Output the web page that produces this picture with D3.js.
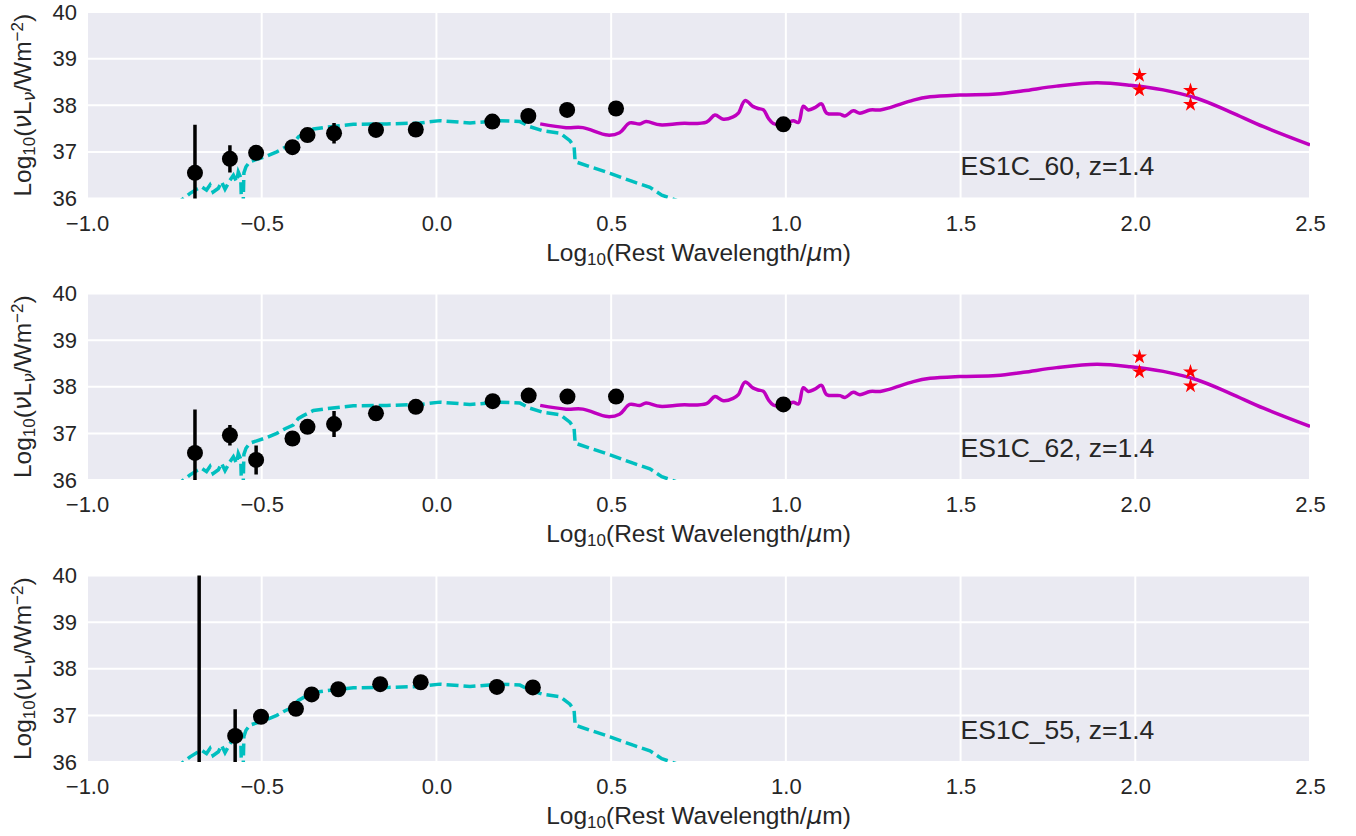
<!DOCTYPE html>
<html>
<head>
<meta charset="utf-8">
<script src="https://cdn.jsdelivr.net/npm/d3@7"></script>
<style>
  html, body { margin: 0; padding: 0; background: #ffffff; }
  svg { display: block; }
  text { font-family: "Liberation Sans", Arial, sans-serif; fill: #262626; }
</style>
</head>
<body>
<svg id="chart" width="1356" height="836"></svg>
<script>
// ---------------- data ----------------
const xTicks = [-1.0, -0.5, 0.0, 0.5, 1.0, 1.5, 2.0, 2.5];
const yTicks = [36, 37, 38, 39, 40];
const panelNames = ["ES1C_60, z=1.4", "ES1C_62, z=1.4", "ES1C_55, z=1.4"];

// photometry, panel 1 (ES1C_60)
const p1X   = [-0.691, -0.591, -0.516, -0.412, -0.369, -0.293, -0.173, -0.059, 0.160, 0.263, 0.374, 0.514, 0.993];
const p1Y   = [36.55, 36.85, 36.98, 37.10, 37.36, 37.40, 37.47, 37.48, 37.65, 37.77, 37.90, 37.93, 37.59];
const p1Err = [1.03, 0.29, 0.05, 0.05, 0.05, 0.22, 0.04, 0.04, 0.03, 0.03, 0.03, 0.03, 0.03];

// photometry, panel 2 (ES1C_62)
const p2X   = [-0.691, -0.591, -0.516, -0.412, -0.369, -0.293, -0.173, -0.059, 0.161, 0.264, 0.375, 0.514, 0.993];
const p2Y   = [36.58, 36.96, 36.43, 36.89, 37.14, 37.20, 37.43, 37.57, 37.69, 37.81, 37.79, 37.79, 37.62];
const p2Err = [0.93, 0.22, 0.31, 0.05, 0.05, 0.28, 0.04, 0.04, 0.03, 0.03, 0.03, 0.03, 0.03];

// photometry, panel 3 (ES1C_55)
const p3X   = [-0.679, -0.576, -0.502, -0.402, -0.357, -0.281, -0.161, -0.045, 0.173, 0.276];
const p3Y   = [35.3, 36.56, 36.97, 37.14, 37.45, 37.56, 37.67, 37.71, 37.61, 37.60];
const p3Err = [5.0, 0.57, 0.05, 0.05, 0.05, 0.05, 0.04, 0.04, 0.03, 0.03];

// far-IR (Herschel) points, red stars
const firX = [2.012, 2.012, 2.158, 2.158];
const fir1Y = [38.64, 38.33, 38.32, 38.02];
const fir2Y = [38.64, 38.32, 38.32, 38.02];

// stellar template (cyan dashed)
const tplX = [-0.75, -0.729, -0.705, -0.686, -0.672, -0.658, -0.648, -0.639, -0.624, -0.615, -0.605, -0.591, -0.581, -0.572, -0.567, -0.560,
              -0.558, -0.553, -0.551, -0.545, -0.534, -0.514, -0.486, -0.457, -0.433, -0.410, -0.395, -0.381, -0.352, -0.314, -0.238,
              -0.142, -0.047, 0.010, 0.096, 0.182, 0.239, 0.268, 0.306, 0.354, 0.382, 0.394, 0.397, 0.440, 0.497, 0.563, 0.611, 0.645, 0.688, 0.72];
const tplY = [35.85, 35.97, 36.11, 36.20, 36.25, 36.18, 36.29, 36.14, 36.22, 36.36, 36.20, 36.39, 36.50, 36.36, 36.57, 36.45,
              35.90, 35.90, 36.55, 36.68, 36.79, 36.84, 36.91, 37.00, 37.10, 37.18, 37.32, 37.38, 37.49, 37.53, 37.59,
              37.60, 37.62, 37.67, 37.62, 37.67, 37.65, 37.54, 37.45, 37.40, 37.24, 37.11, 36.79, 36.68, 36.54, 36.36, 36.24, 36.07, 35.96, 35.90];

// AGN / dust template (magenta)
const dustX = [0.297, 0.371, 0.419, 0.490, 0.524, 0.553, 0.582, 0.600, 0.640, 0.697, 0.773, 0.797, 0.821, 0.849, 0.864, 0.883, 0.907,
               0.921, 0.936, 0.950, 0.964, 0.993, 1.021, 1.036, 1.050, 1.064, 1.083, 1.102, 1.117, 1.155, 1.169, 1.193, 1.212, 1.241,
               1.270, 1.298, 1.365, 1.413, 1.498, 1.603, 1.680, 1.775, 1.890, 1.985, 2.080, 2.176, 2.271, 2.367, 2.5];
const dustY = [37.60, 37.52, 37.52, 37.36, 37.41, 37.62, 37.60, 37.65, 37.58, 37.61, 37.64, 37.79, 37.70, 37.75, 37.83, 38.10, 37.97,
               37.93, 37.90, 37.72, 37.61, 37.58, 37.67, 37.63, 37.98, 37.90, 37.95, 38.03, 37.83, 37.81, 37.77, 37.88, 37.83, 37.90,
               37.90, 37.95, 38.11, 38.18, 38.22, 38.24, 38.31, 38.41, 38.48, 38.43, 38.33, 38.15, 37.86, 37.54, 37.15];

// ---------------- layout ----------------
const svg = d3.select("#chart");
const left = 87, right = 1310;
const panelTops = [12, 293.5, 575.5];
const panelH = 186.5;

const panels = [
  { x: p1X, y: p1Y, err: p1Err, firY: fir1Y, dust: true,  name: panelNames[0] },
  { x: p2X, y: p2Y, err: p2Err, firY: fir2Y, dust: true,  name: panelNames[1] },
  { x: p3X, y: p3Y, err: p3Err, firY: null,  dust: false, name: panelNames[2] }
];

const xScale = d3.scaleLinear().domain([-1.0, 2.5]).range([left, right]);
const fmtX = d3.format(".1f");

panels.forEach((p, i) => {
  const top = panelTops[i], bottom = top + panelH;
  const yScale = d3.scaleLinear().domain([36, 40]).range([bottom, top]);
  const g = svg.append("g");

  // background
  g.append("rect").attr("x", left).attr("y", top).attr("width", right - left).attr("height", panelH)
    .attr("fill", "#EAEAF2");

  // grid
  g.append("g").selectAll("line").data(xTicks).join("line")
    .attr("x1", d => xScale(d)).attr("x2", d => xScale(d)).attr("y1", top).attr("y2", bottom)
    .attr("stroke", "#ffffff").attr("stroke-width", 2);
  g.append("g").selectAll("line").data(yTicks).join("line")
    .attr("y1", d => yScale(d)).attr("y2", d => yScale(d)).attr("x1", left).attr("x2", right)
    .attr("stroke", "#ffffff").attr("stroke-width", 2);

  // axes (no tick marks, seaborn darkgrid)
  const xAxis = d3.axisBottom(xScale).tickValues(xTicks).tickFormat(fmtX).tickSize(0).tickPadding(16.5);
  const xa = g.append("g").attr("transform", `translate(0,${bottom})`).call(xAxis);
  xa.select(".domain").remove();
  xa.selectAll("text").attr("font-size", 22).attr("fill", "#262626")
    .style("font-family", "'Liberation Sans', Arial, sans-serif");

  const yAxis = d3.axisLeft(yScale).tickValues(yTicks).tickFormat(d3.format("d")).tickSize(0).tickPadding(10);
  const ya = g.append("g").attr("transform", `translate(${left},0)`).call(yAxis);
  ya.select(".domain").remove();
  ya.selectAll("text").attr("font-size", 22).attr("fill", "#262626")
    .style("font-family", "'Liberation Sans', Arial, sans-serif");

  // clip
  const clipId = "clip" + i;
  svg.append("clipPath").attr("id", clipId).append("rect")
    .attr("x", left).attr("y", top).attr("width", right - left).attr("height", panelH);
  const plot = g.append("g").attr("clip-path", `url(#${clipId})`);

  // stellar template
  const line = d3.line().x(d => xScale(d[0])).y(d => yScale(d[1]));
  plot.append("path").datum(d3.zip(tplX, tplY))
    .attr("d", line).attr("fill", "none").attr("stroke", "#00BFBF")
    .attr("stroke-width", 3.5).attr("stroke-dasharray", "12,5");

  // dust template
  if (p.dust) {
    const dline = d3.line().curve(d3.curveCatmullRom.alpha(0.5)).x(d => xScale(d[0])).y(d => yScale(d[1]));
    plot.append("path").datum(d3.zip(dustX, dustY))
      .attr("d", dline).attr("fill", "none").attr("stroke", "#BF00BF").attr("stroke-width", 3.5);
  }

  // error bars
  const pts = d3.zip(p.x, p.y, p.err);
  plot.append("g").selectAll("line").data(pts).join("line")
    .attr("x1", d => xScale(d[0])).attr("x2", d => xScale(d[0]))
    .attr("y1", d => yScale(d[1] - d[2])).attr("y2", d => yScale(d[1] + d[2]))
    .attr("stroke", "#000000").attr("stroke-width", 3.5);
  plot.append("g").selectAll("circle").data(pts).join("circle")
    .attr("cx", d => xScale(d[0])).attr("cy", d => yScale(d[1])).attr("r", 8)
    .attr("fill", "#000000");

  // far-IR stars
  if (p.firY) {
    const star = d3.symbol().type(d3.symbolStar).size(70);
    plot.append("g").selectAll("path").data(d3.zip(firX, p.firY)).join("path")
      .attr("d", star)
      .attr("transform", d => `translate(${xScale(d[0])},${yScale(d[1])})`)
      .attr("fill", "#FF0000");
  }

  // annotation
  g.append("text").attr("x", xScale(1.5)).attr("y", yScale(36.5))
    .attr("font-size", 26.5).text(p.name);

  // x label
  const xl = g.append("text").attr("x", (left + right) / 2).attr("y", bottom + 62)
    .attr("text-anchor", "middle").attr("font-size", 24.5);
  xl.append("tspan").text("Log");
  xl.append("tspan").attr("font-size", 17).attr("baseline-shift", "-22%").text("10");
  xl.append("tspan").text("(Rest Wavelength/");
  xl.append("tspan").style("font-family", "'DejaVu Sans', sans-serif").attr("font-style", "italic").text("μ");
  xl.append("tspan").text("m)");

  // y label
  const yl = g.append("text")
    .attr("transform", `translate(31,${(top + bottom) / 2}) rotate(-90)`)
    .attr("text-anchor", "middle").attr("font-size", 24.5);
  yl.append("tspan").text("Log");
  yl.append("tspan").attr("font-size", 17).attr("baseline-shift", "-22%").text("10");
  yl.append("tspan").text("(");
  yl.append("tspan").style("font-family", "'DejaVu Sans', sans-serif").attr("font-style", "italic").text("ν");
  yl.append("tspan").text("L");
  yl.append("tspan").style("font-family", "'DejaVu Sans', sans-serif").attr("font-style", "italic")
    .attr("font-size", 17).attr("baseline-shift", "-22%").text("ν");
  yl.append("tspan").text("/Wm");
  yl.append("tspan").attr("font-size", 17).attr("baseline-shift", "45%").text("−2");
  yl.append("tspan").text(")");
});
</script>
</body>
</html>
